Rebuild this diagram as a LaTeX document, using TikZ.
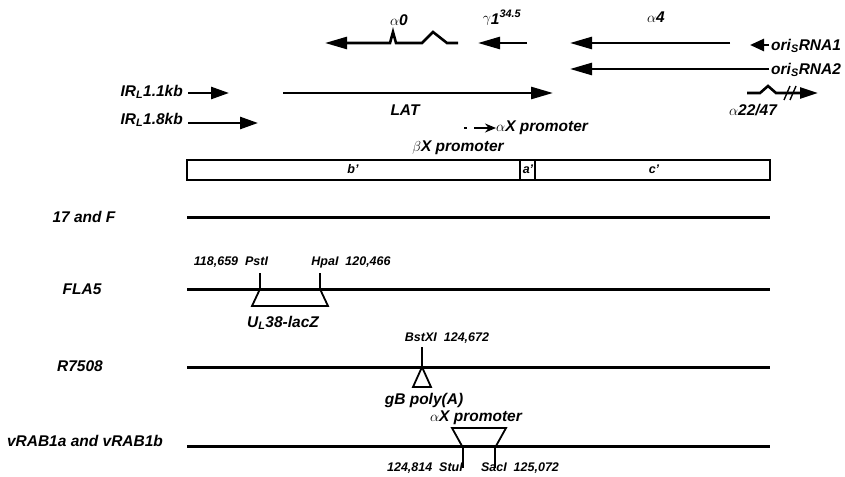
\documentclass[tikz,border=0pt]{standalone}
\usepackage{fontspec}
\setmainfont{Liberation Sans}
\usetikzlibrary{arrows.meta}
\tikzset{
  gene/.style={line width=2.6pt,-{Triangle[length=22pt,width=12pt]}},
  genome/.style={line width=3pt},
  site/.style={line width=1.4pt},
  insert/.style={line width=1.8pt},
  lbl/.style={inner sep=0pt,font=\fontsize{15.5}{15.5}\selectfont\bfseries\itshape},
  sml/.style={inner sep=0pt,font=\fontsize{12.5}{12.5}\selectfont\bfseries\itshape}
}
\begin{document}
\begin{tikzpicture}[x=1pt,y=-1pt]
 \useasboundingbox (0,0) rectangle (845,476);
 % transcripts
 \begin{scope}
  \draw[gene] (458,43) -- (447,43) -- (433,32) -- (422,43) -- (396,43) -- (393,32) -- (390,43) -- (325,43);
  \node[lbl] (a0) at (399,20) {$\alpha$0};
  \draw[gene] (527,43) -- (478,43);
  \node[lbl] (g1) at (502,18) {$\gamma$\raisebox{-1.5pt}{1}\textsuperscript{34.5}};
  \draw[gene] (730,43) -- (570,43);
  \node[lbl] (a4) at (656,17) {$\alpha$4};
  \node[lbl,anchor=west] (ori1) at (771,46) {ori\textsubscript{S}RNA1};
  \draw[gene,-{Triangle[length=14pt,width=12pt]}] (ori1.west) ++(-2,-1) -- (750,45);
  \node[lbl,anchor=west] (ori2) at (771,70) {ori\textsubscript{S}RNA2};
  \draw[gene] (ori2.west) ++(-2,-1) -- (570,69);
  \draw[gene,-{Triangle[length=18pt,width=11pt]}] (747,93) -- (760,93) -- (768,86) -- (776,93) -- (818,93);
  \draw[site] (784,100) -- (790,86) (790,100) -- (796,86);
  \node[lbl] (a22) at (753,110) {$\alpha$22/47};
  \node[lbl,anchor=east] (ir1) at (183,92) {IR\textsubscript{L}1.1kb};
  \draw[gene,-{Triangle[length=18pt,width=12pt]}] (ir1.east) ++(5,1) -- (229,93);
  \node[lbl,anchor=east] (ir2) at (183,120) {IR\textsubscript{L}1.8kb};
  \draw[gene,-{Triangle[length=18pt,width=12pt]}] (ir2.east) ++(5,3) -- (258,123);
  \draw[gene] (283,93) -- (553,93);
  \node[lbl] (lat) at (405,110) {LAT};
  \node[lbl,anchor=west] (axp) at (496,128) {$\alpha$X promoter};
  \draw[line width=1.4pt,dash pattern=on 3pt off 7pt on 40pt,-{Stealth[length=11pt,width=9pt]}] (464,128) -- (axp.west);
  \node[lbl] (bxp) at (458,148) {$\beta$X promoter};
 \end{scope}
 % repeat box
 \draw[line width=2pt] (187,160) rectangle (770,180) (520,160) -- (520,180) (535,160) -- (535,180);
 \node[sml] (bp) at (353,169) {b'};
 \node[sml] (ap) at (528,169) {a'};
 \node[sml] (cp) at (654,169) {c'};
 % genomes
 \node[lbl] (wt) at (84,217) {17 and F};
 \draw[genome] (187,217) -- (770,217);
 \node[lbl] (fla) at (82,289) {FLA5};
 \draw[genome] (187,289) -- (770,289);
 \draw[site] (260,273) -- (260,289) (320,273) -- (320,289);
 \draw[insert] (260,289) -- (252,306) -- (328,306) -- (320,289);
 \node[sml] (pst) at (231,262) {118,659 \ PstI};
 \node[sml] (hpa) at (351,262) {HpaI \ 120,466};
 \node[lbl] (ul38) at (283,323) {U\textsubscript{L}38-lacZ};
 \node[lbl] (r75) at (80,366) {R7508};
 \draw[genome] (187,367) -- (770,367);
 \draw[site] (422,347) -- (422,367);
 \draw[insert] (422,367) -- (413,387) -- (431,387) -- cycle;
 \node[sml] (bst) at (447,338) {BstXI \ 124,672};
 \node[lbl] (gb) at (424,400) {gB poly(A)};
 \node[lbl] (vrab) at (85,441) {vRAB1a and vRAB1b};
 \draw[genome] (187,446) -- (770,446);
 \node[lbl] (axp2) at (476,418) {$\alpha$X promoter};
 \draw[insert] (462,446) -- (452,428) -- (506,428) -- (496,446);
 \draw[site] (463,446) -- (463,468) (495,446) -- (495,468);
 \node[sml] (stu) at (425,468) {124,814 \ StuI};
 \node[sml] (sac) at (520,468) {SacI \ 125,072};
\end{tikzpicture}
\end{document}
